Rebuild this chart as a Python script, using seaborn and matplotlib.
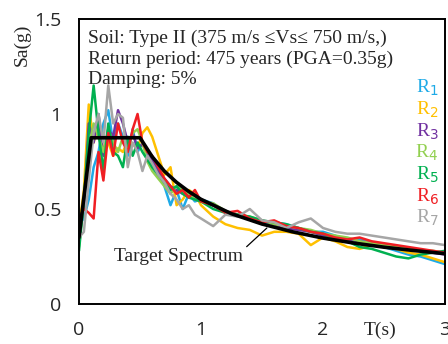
import numpy as np
import pandas as pd
import matplotlib
matplotlib.use("Agg")
import matplotlib.pyplot as plt
import seaborn as sns

sns.set_theme(style="white")
plt.rcParams["font.family"] = ["Liberation Serif", "DejaVu Serif"]

# Periods (s) at which the record spectra are sampled
period = [0.00, 0.04, 0.08, 0.12, 0.16, 0.20, 0.24, 0.28, 0.32, 0.36, 0.40,
          0.44, 0.48, 0.52, 0.56, 0.60, 0.65, 0.70, 0.75, 0.80, 0.85, 0.90,
          0.95, 1.00, 1.10, 1.20, 1.30, 1.40, 1.50, 1.60, 1.70, 1.80, 1.90,
          2.00, 2.10, 2.20, 2.30, 2.40, 2.50, 2.60, 2.70, 2.80, 2.90, 3.00]

# Scaled response spectra of the seven records, Sa(g)
r1 = [0.42, 0.45, 0.55, 0.72, 0.80, 0.95, 1.02, 0.85, 0.95, 0.88, 0.78,
      0.92, 0.80, 0.85, 0.78, 0.72, 0.70, 0.62, 0.52, 0.60, 0.50, 0.58,
      0.54, 0.55, 0.53, 0.48, 0.47, 0.45, 0.42, 0.43, 0.42, 0.40, 0.38,
      0.38, 0.36, 0.33, 0.34, 0.32, 0.30, 0.28, 0.26, 0.25, 0.23, 0.21]
r2 = [0.40, 0.60, 1.05, 0.85, 0.95, 0.80, 0.85, 0.78, 0.82, 0.80, 0.86,
      0.84, 0.82, 0.90, 0.93, 0.88, 0.78, 0.68, 0.72, 0.52, 0.55, 0.60,
      0.58, 0.52, 0.46, 0.42, 0.40, 0.39, 0.36, 0.38, 0.38, 0.37, 0.31,
      0.35, 0.33, 0.30, 0.29, 0.31, 0.30, 0.29, 0.27, 0.26, 0.24, 0.22]
r3 = [0.45, 0.50, 0.95, 0.85, 1.00, 0.78, 0.92, 0.88, 1.02, 0.95, 0.85,
      0.90, 0.82, 0.84, 0.80, 0.76, 0.70, 0.66, 0.62, 0.60, 0.58, 0.57,
      0.55, 0.54, 0.52, 0.49, 0.47, 0.45, 0.44, 0.42, 0.40, 0.39, 0.38,
      0.36, 0.35, 0.34, 0.33, 0.32, 0.31, 0.30, 0.29, 0.28, 0.27, 0.26]
r4 = [0.30, 0.55, 0.82, 0.95, 0.88, 0.80, 0.92, 0.85, 0.80, 0.88, 0.82,
      0.90, 0.92, 0.85, 0.75, 0.70, 0.66, 0.62, 0.58, 0.62, 0.60, 0.58,
      0.55, 0.54, 0.53, 0.49, 0.47, 0.46, 0.44, 0.42, 0.41, 0.40, 0.39,
      0.37, 0.36, 0.35, 0.33, 0.32, 0.31, 0.30, 0.29, 0.28, 0.28, 0.27]
r5 = [0.28, 0.55, 0.90, 1.15, 0.90, 0.70, 0.95, 0.80, 0.78, 0.72, 0.88,
      0.78, 0.85, 0.80, 0.76, 0.72, 0.68, 0.64, 0.60, 0.62, 0.58, 0.56,
      0.55, 0.54, 0.50, 0.48, 0.47, 0.46, 0.44, 0.43, 0.42, 0.40, 0.38,
      0.37, 0.34, 0.33, 0.30, 0.29, 0.27, 0.25, 0.24, 0.26, 0.27, 0.28]
r6 = [0.45, 0.50, 0.48, 0.45, 0.80, 0.65, 0.90, 0.78, 0.95, 0.85, 0.80,
      0.92, 1.00, 0.85, 0.80, 0.78, 0.72, 0.66, 0.62, 0.58, 0.60, 0.56,
      0.60, 0.54, 0.52, 0.48, 0.49, 0.45, 0.43, 0.44, 0.41, 0.40, 0.38,
      0.37, 0.35, 0.34, 0.35, 0.33, 0.32, 0.31, 0.30, 0.29, 0.28, 0.27]
r7 = [0.35, 0.38, 0.65, 0.90, 1.00, 0.85, 1.15, 0.95, 1.00, 0.98, 0.72,
      0.85, 0.80, 0.70, 0.78, 0.74, 0.68, 0.64, 0.58, 0.55, 0.50, 0.52,
      0.47, 0.45, 0.41, 0.47, 0.46, 0.50, 0.44, 0.43, 0.40, 0.43, 0.45,
      0.40, 0.38, 0.37, 0.37, 0.36, 0.35, 0.34, 0.33, 0.32, 0.32, 0.31]

records = ["R1", "R2", "R3", "R4", "R5", "R6", "R7"]
record_labels = [r"R$_1$", r"R$_2$", r"R$_3$", r"R$_4$", r"R$_5$", r"R$_6$", r"R$_7$"]
record_colors = ["#1EAAE7", "#FFC000", "#7030A0", "#92D050",
                 "#00B050", "#F01E23", "#A6A6A6"]

# Design (target) spectrum
target_period = [0.0, 0.1, 0.5, 0.6, 0.7, 0.8, 0.9, 1.0, 1.25, 1.5,
                 1.75, 2.0, 2.25, 2.5, 2.75, 3.0]
target_sa = [0.35, 0.875, 0.875, 0.775, 0.699, 0.640, 0.592, 0.551,
             0.475, 0.421, 0.380, 0.347, 0.321, 0.299, 0.281, 0.265]

series = [r1, r2, r3, r4, r5, r6, r7]
df = pd.DataFrame({
    "T": np.tile(period, len(records)),
    "Sa": np.concatenate(series),
    "record": np.repeat(records, len(period)),
})
target = pd.DataFrame({"T": target_period, "Sa": target_sa})

fig = plt.figure(figsize=(4.48, 3.44), dpi=100)
ax = fig.add_axes([79 / 448, 40 / 344, 366 / 448, 285 / 344])

sns.lineplot(data=df, x="T", y="Sa", hue="record", palette=record_colors,
             linewidth=1.8, legend=False, ax=ax)
sns.lineplot(data=target, x="T", y="Sa", color="black", linewidth=2.6, ax=ax)

ax.set_xlim(0, 3)
ax.set_ylim(0, 1.5)
ax.set_xticks([0, 1, 2, 3])
ax.set_xticklabels(["0", "1", "2", "3"])
ax.set_yticks([0, 0.5, 1, 1.5])
ax.set_yticklabels(["0", "0.5", "1", "1.5"])
ax.set_xlabel("")
ax.set_ylabel("")
for lab in ax.get_xticklabels() + ax.get_yticklabels():
    lab.set_family(["Open Sans", "DejaVu Sans"])
    lab.set_fontsize(14)
ax.tick_params(axis="y", direction="out", length=6, width=1.3, pad=7, color="black")
ax.tick_params(axis="x", direction="out", length=5, width=1.3, pad=7, color="black")
for side in ["left", "bottom", "top", "right"]:
    ax.spines[side].set_color("black")
    ax.spines[side].set_linewidth(1.4)

fig.text(22 / 448, 1 - 45 / 344, "Sa(g)", rotation=90, fontsize=14,
         ha="center", va="center")
fig.text(380 / 448, 1 - 330 / 344, "T(s)", fontsize=14, ha="center", va="center")

info = ["Soil: Type II (375 m/s \u2264Vs\u2264 750 m/s,)",
        "Return period: 475 years (PGA=0.35g)",
        "Damping: 5%"]
for i, line in enumerate(info):
    fig.text(88 / 448, 1 - (38 + 21 * i) / 344, line, fontsize=14,
             ha="left", va="center")

for i, (lab, col) in enumerate(zip(record_labels, record_colors)):
    fig.text(427 / 448, 1 - (88 + 21.7 * i) / 344, lab, color=col,
             fontsize=14, ha="center", va="center")

ax.annotate("Target Spectrum", xy=(1.54, 0.40), xytext=(0.29, 0.25),
            fontsize=14, ha="left", va="center",
            arrowprops=dict(arrowstyle="-", color="black", lw=0.9,
                            shrinkA=0, shrinkB=0,
                            relpos=(1.0, 0.9)))

fig.savefig("out.png", dpi=100)
